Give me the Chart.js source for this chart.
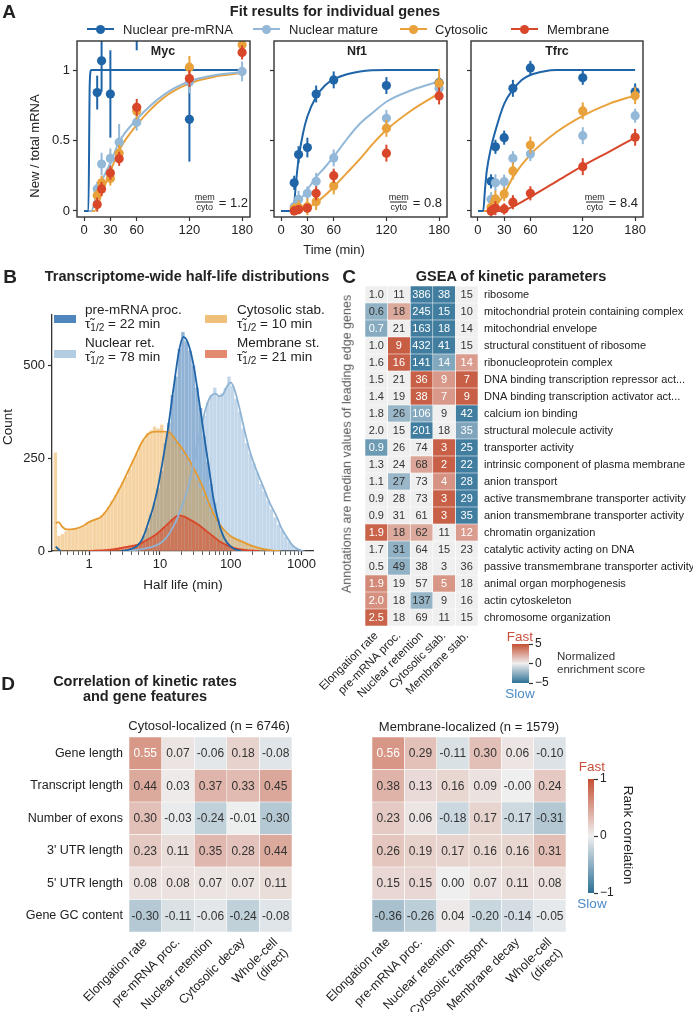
<!DOCTYPE html>
<html>
<head>
<meta charset="utf-8">
<title>Kinetic rates</title>
<script src="https://cdn.jsdelivr.net/npm/chart.js@4.4.1/dist/chart.umd.min.js"></script>
<style>
  body { margin: 0; background: #fff; }
  #page { position: relative; width: 698px; height: 1018px; overflow: hidden;
          font-family: "Liberation Sans", Arial, sans-serif; color: #222; }
  #page canvas { position: absolute; left: 0; top: 0; }
  .t { position: absolute; white-space: nowrap; line-height: 1; }
  .c { transform: translate(-50%, -50%); }
  .l { transform: translateY(-50%); }
  .up { transform: translate(-50%, -50%) rotate(-90deg); }
  .down { transform: translate(-50%, -50%) rotate(90deg); }
  .bold { font-weight: bold; }
  .lg { position: absolute; top: 28px; width: 27px; height: 2px; }
  .lg i { position: absolute; left: 9px; top: -3.5px; width: 9px; height: 9px; border-radius: 50%; background: inherit; }
  .frac { font-size: 13px; display: flex; align-items: center; transform: translateY(-50%); }
  .fr { display: inline-flex; flex-direction: column; align-items: center; font-size: 9px; line-height: 9px; margin-right: 4px; }
  .fr span + span { border-top: 1px solid #222; }
  .patch { position: absolute; width: 22px; height: 8px; }
  .leg { font-size: 13.5px; line-height: 14px; }
  sub { font-size: 10px; line-height: 0; vertical-align: -3px; }
</style>
</head>
<body>
<div id="page">
  <!-- A -->
  <div class="t c bold" style="left:9px;top:11px;font-size:19px">A</div>
  <div class="t c bold" style="left:335px;top:11px;font-size:14.5px">Fit results for individual genes</div>
  <div class="lg" style="left:87px;background:#1f65a8"><i></i></div>
  <div class="t l" style="left:123px;top:29px;font-size:13px">Nuclear pre-mRNA</div>
  <div class="lg" style="left:253px;background:#93b8d8"><i></i></div>
  <div class="t l" style="left:289px;top:29px;font-size:13px">Nuclear mature</div>
  <div class="lg" style="left:400px;background:#e9a23b"><i></i></div>
  <div class="t l" style="left:435px;top:29px;font-size:13px">Cytosolic</div>
  <div class="lg" style="left:511px;background:#d9472a"><i></i></div>
  <div class="t l" style="left:547px;top:29px;font-size:13px">Membrane</div>
  <div class="t up" style="left:34px;top:146px;font-size:13px">New / total mRNA</div>
  <div class="t c" style="left:334px;top:249px;font-size:13px">Time (min)</div>
  <div class="t c bold" style="left:163px;top:51px;font-size:12.5px">Myc</div>
  <div class="t c bold" style="left:357px;top:51px;font-size:12.5px">Nf1</div>
  <div class="t c bold" style="left:557px;top:51px;font-size:12.5px">Tfrc</div>
  <div class="t frac" style="right:450px;top:202px"><span class="fr"><span>mem</span><span>cyto</span></span>= 1.2</div>
  <div class="t frac" style="right:256px;top:202px"><span class="fr"><span>mem</span><span>cyto</span></span>= 0.8</div>
  <div class="t frac" style="right:60px;top:202px"><span class="fr"><span>mem</span><span>cyto</span></span>= 8.4</div>

  <!-- B -->
  <div class="t c bold" style="left:10px;top:276px;font-size:19px">B</div>
  <div class="t c bold" style="left:187px;top:276px;font-size:14.5px">Transcriptome-wide half-life distributions</div>
  <div class="patch" style="left:54px;top:315px;background:#4f86bd"></div>
  <div class="t leg" style="left:85px;top:303px">pre-mRNA proc.<br>τ̃<sub>1/2</sub> = 22 min</div>
  <div class="patch" style="left:54px;top:350px;background:#b3cde3"></div>
  <div class="t leg" style="left:85px;top:336px">Nuclear ret.<br>τ̃<sub>1/2</sub> = 78 min</div>
  <div class="patch" style="left:205px;top:315px;background:#efc07a"></div>
  <div class="t leg" style="left:237px;top:303px">Cytosolic stab.<br>τ̃<sub>1/2</sub> = 10 min</div>
  <div class="patch" style="left:205px;top:350px;background:#e38a70"></div>
  <div class="t leg" style="left:237px;top:336px">Membrane st.<br>τ̃<sub>1/2</sub> = 21 min</div>
  <div class="t up" style="left:8px;top:427px;font-size:13.5px">Count</div>
  <div class="t c" style="left:183px;top:585px;font-size:13.5px">Half life (min)</div>

  <!-- C -->
  <div class="t c bold" style="left:349px;top:276px;font-size:19px">C</div>
  <div class="t c bold" style="left:511px;top:276px;font-size:14.5px">GSEA of kinetic parameters</div>
  <div class="t up" style="left:347px;top:444px;font-size:12.5px;color:#555">Annotations are median values of leading edge genes</div>
  <div class="t c" style="left:520px;top:637px;font-size:13.5px;color:#c8503c">Fast</div>
  <div class="t c" style="left:520px;top:694px;font-size:13.5px;color:#4c8ac6">Slow</div>
  <div class="t" style="left:557px;top:650px;font-size:11.5px;line-height:13px;color:#333">Normalized<br>enrichment score</div>

  <!-- D -->
  <div class="t c bold" style="left:8px;top:683px;font-size:19px">D</div>
  <div class="t c bold" style="left:145px;top:688px;font-size:14.5px;line-height:14.5px;text-align:center">Correlation of kinetic rates<br>and gene features</div>
  <div class="t c" style="left:209px;top:725px;font-size:13px">Cytosol-localized (n = 6746)</div>
  <div class="t c" style="left:469px;top:726px;font-size:13px">Membrane-localized (n = 1579)</div>
  <div class="t c" style="left:592px;top:767px;font-size:13.5px;color:#c8503c">Fast</div>
  <div class="t c" style="left:592px;top:904px;font-size:13.5px;color:#4c8ac6">Slow</div>
  <div class="t down" style="left:628px;top:835px;font-size:13.5px">Rank correlation</div>
</div>

<script>
// ---------- A: fits for single genes ----------
const timesMin = [15, 20, 30, 40, 60, 120, 180];
const timeTicks = [0, 30, 60, 120, 180];
const fracTicks = [0, 0.5, 1];
const fracColors = ["#1f65a8", "#93b8d8", "#e9a23b", "#d9472a"]; // pre-mRNA, nuclear, cytosolic, membrane

// observed new/total ratios, one row per fraction
const mycObs = [
  [0.84, 1.066, 0.83, 1.6, 1.4, 0.65, 1.6],
  [0.156, 0.333, 0.373, 0.487, 0.63, 0.915, 0.99],
  [0.11, 0.2, 0.23, 0.41, 0.71, 1.02, 1.18],
  [0.045, 0.156, 0.27, 0.37, 0.735, 0.94, 1.125],
];
const mycErr = [
  [0.12, 0.22, 0.31, 0.2, 0.26, 0.3, 0.2],
  [0.05, 0.08, 0.07, 0.13, 0.06, 0.08, 0.07],
  [0.04, 0.05, 0.05, 0.06, 0.06, 0.08, 0.06],
  [0.05, 0.05, 0.05, 0.05, 0.06, 0.06, 0.05],
];
const mycFit = [
  [[0, 0], [5, 0], [6.5, 0.9], [8, 1], [180, 1]],
  [[0, 0], [8, 0], [15, 0.13], [20, 0.21], [30, 0.34], [40, 0.49], [60, 0.65], [90, 0.82], [120, 0.92], [150, 0.965], [180, 0.985]],
  [[0, 0], [12, 0], [20, 0.12], [30, 0.28], [40, 0.43], [60, 0.61], [90, 0.8], [120, 0.905], [150, 0.955], [180, 0.98]],
  null,
];

const nf1Obs = [
  [0.2, 0.4, 0.45, 0.83, 0.93, 0.89, 0.91],
  [0.03, 0.083, 0.125, 0.21, 0.376, 0.657, 0.87],
  [0.014, 0.026, 0.03, 0.066, 0.177, 0.586, 0.906],
  [0.0, 0.01, 0.02, 0.125, 0.25, 0.41, 0.816],
];
const nf1Err = [
  [0.05, 0.06, 0.07, 0.06, 0.06, 0.06, 0.05],
  [0.04, 0.06, 0.05, 0.06, 0.06, 0.06, 0.05],
  [0.04, 0.05, 0.06, 0.06, 0.06, 0.06, 0.1],
  [0.03, 0.03, 0.03, 0.05, 0.05, 0.06, 0.06],
];
const nf1Fit = [
  [[0, 0], [14, 0], [17, 0.2], [20, 0.37], [25, 0.55], [30, 0.67], [40, 0.81], [50, 0.89], [60, 0.935], [75, 0.97], [90, 0.99], [120, 1], [180, 1]],
  [[0, 0], [13, 0], [20, 0.06], [30, 0.15], [40, 0.24], [50, 0.31], [60, 0.385], [75, 0.51], [90, 0.62], [105, 0.7], [120, 0.775], [150, 0.86], [180, 0.92]],
  [[0, 0], [22, 0], [30, 0.02], [40, 0.06], [50, 0.11], [60, 0.17], [75, 0.27], [90, 0.37], [105, 0.48], [120, 0.575], [150, 0.72], [180, 0.835]],
  null,
];

const tfrcObs = [
  [0.21, 0.455, 0.52, 0.87, 1.015, 0.945, 0.845],
  [0.083, 0.2, 0.208, 0.374, 0.404, 0.534, 0.676],
  [0.026, 0.085, 0.12, 0.284, 0.468, 0.71, 0.818],
  [0.0, 0.02, 0.014, 0.062, 0.125, 0.314, 0.523],
];
const tfrcErr = [
  [0.05, 0.05, 0.05, 0.06, 0.05, 0.05, 0.06],
  [0.05, 0.06, 0.05, 0.05, 0.05, 0.06, 0.05],
  [0.05, 0.06, 0.05, 0.06, 0.06, 0.06, 0.06],
  [0.04, 0.05, 0.04, 0.05, 0.05, 0.06, 0.06],
];
const tfrcFit = [
  [[0, 0], [6, 0], [8, 0.15], [10, 0.28], [15, 0.45], [20, 0.57], [30, 0.76], [40, 0.86], [50, 0.93], [60, 0.965], [75, 0.99], [90, 1], [180, 1]],
  null,
  [[0, 0], [15, 0], [20, 0.03], [30, 0.12], [40, 0.24], [60, 0.4], [90, 0.56], [120, 0.675], [150, 0.76], [180, 0.82]],
  [[0, 0], [25, 0], [30, 0.005], [40, 0.03], [60, 0.1], [90, 0.21], [120, 0.32], [150, 0.42], [180, 0.52]],
];

// ---------- B: half-life histograms (log10 bins of 0.05) ----------
const binLog = 0.05;
const histStartLog = [0.525, 0.525, -0.475, 0.025];
const histPre = [2, 4, 8, 14, 22, 40, 62, 98, 130, 168, 215, 290, 345, 420, 470, 545, 590, 565, 540, 500,
  440, 385, 310, 240, 180, 128, 85, 52, 30, 16, 8, 4, 2];
const histNuc = [1, 2, 3, 4, 5, 7, 9, 12, 16, 22, 28, 38, 52, 68, 88, 110, 135, 165, 205, 250,
  290, 330, 365, 400, 420, 440, 418, 425, 440, 470, 445, 410, 375, 330, 290, 262, 235, 210, 180, 160,
  135, 112, 90, 70, 55, 38, 24, 14, 8, 4, 1];
const histCyto = [265, 40, 45, 52, 55, 58, 60, 62, 65, 72, 80, 84, 88, 95, 105, 118, 135, 150, 168, 185,
  200, 222, 245, 262, 285, 300, 318, 325, 335, 330, 340, 318, 330, 310, 290, 285, 262, 250, 232, 215,
  192, 170, 148, 125, 105, 88, 72, 60, 48, 40, 35, 30, 25, 22, 18, 14, 11, 8, 6, 4, 3, 2, 1, 1];
const histMem = [2, 2, 3, 3, 4, 5, 6, 8, 9, 10, 12, 14, 16, 18, 22, 26, 32, 36, 42, 48,
  56, 65, 74, 85, 92, 98, 95, 90, 85, 78, 72, 65, 58, 50, 42, 35, 28, 22, 17, 13, 10, 7, 5, 3, 2, 1, 1, 1];
// density curves as [log10 half-life, count]
const kdePre = [[-0.47, 12], [-0.44, 6], [-0.4, 0], [0, null], [0.45, 0], [0.55, 3], [0.65, 10], [0.72, 22], [0.78, 45],
  [0.85, 85], [0.9, 115], [0.97, 170], [1.05, 255], [1.11, 325], [1.2, 450], [1.27, 540], [1.33, 578], [1.4, 560],
  [1.48, 497], [1.55, 410], [1.62, 317], [1.7, 215], [1.76, 137], [1.82, 85], [1.88, 47], [1.95, 22], [2.04, 7], [2.15, 0]];
const kdeNuc = [[0.5, 0], [0.7, 4], [0.9, 12], [1.0, 20], [1.1, 38], [1.2, 70], [1.25, 90], [1.3, 115], [1.39, 165],
  [1.45, 215], [1.53, 290], [1.6, 350], [1.67, 398], [1.72, 418], [1.785, 425], [1.84, 418], [1.88, 420], [1.95, 445],
  [2.0, 455], [2.06, 432], [2.14, 372], [2.2, 322], [2.28, 263], [2.37, 215], [2.46, 173], [2.55, 130], [2.65, 92],
  [2.72, 60], [2.79, 38], [2.86, 18], [2.93, 7], [3.02, 0]];
const kdeCyto = [[-0.47, 75], [-0.43, 78], [-0.38, 66], [-0.32, 58], [-0.2, 60], [-0.1, 66], [0, 78], [0.1, 86], [0.17, 92],
  [0.25, 110], [0.35, 140], [0.45, 175], [0.55, 215], [0.65, 255], [0.75, 295], [0.85, 318], [0.95, 322], [1.05, 322],
  [1.15, 318], [1.22, 300], [1.3, 280], [1.4, 250], [1.5, 215], [1.6, 175], [1.7, 125], [1.8, 85], [1.9, 58], [2.0, 40],
  [2.1, 30], [2.2, 22], [2.3, 14], [2.45, 6], [2.6, 1], [2.7, 0]];
const kdeMem = [[0, 0], [0.3, 3], [0.5, 10], [0.7, 18], [0.85, 33], [0.95, 45], [1.05, 62], [1.15, 80], [1.22, 92],
  [1.27, 96], [1.35, 92], [1.45, 82], [1.55, 70], [1.65, 55], [1.75, 40], [1.85, 25], [1.95, 15], [2.05, 8], [2.2, 3], [2.4, 0]];
const logTicks = [0.4, 0.5, 0.6, 0.7, 0.8, 0.9, 1, 2, 3, 4, 5, 6, 7, 8, 9, 10, 20, 30, 40, 50, 60, 70, 80, 90,
  100, 200, 300, 400, 500, 600, 700, 800, 900, 1000];
const logLabels = [1, 10, 100, 1000];
const countTicks = [0, 250, 500];
const histFill = ["rgba(33,102,172,0.5)", "rgba(146,183,216,0.55)", "rgba(236,168,70,0.5)", "rgba(217,72,42,0.55)"];
const kdeColors = ["#1f65a8", "#8fb3d3", "#e49a2e", "#d9472a"];

// ---------- C: GSEA ----------
const gseaRows = ["ribosome", "mitochondrial protein containing complex", "mitochondrial envelope",
  "structural constituent of ribosome", "ribonucleoprotein complex", "DNA binding transcription repressor act...",
  "DNA binding transcription activator act...", "calcium ion binding", "structural molecule activity",
  "transporter activity", "intrinsic component of plasma membrane", "anion transport",
  "active transmembrane transporter activity", "anion transmembrane transporter activity", "chromatin organization",
  "catalytic activity acting on DNA", "passive transmembrane transporter activity", "animal organ morphogenesis",
  "actin cytoskeleton", "chromosome organization"];
const gseaCols = ["Elongation rate", "pre-mRNA proc.", "Nuclear retention", "Cytosolic stab.", "Membrane stab."];
const gseaMedian = [
  [1.0, 11, 386, 38, 15], [0.6, 18, 245, 15, 10], [0.7, 21, 163, 18, 14], [1.0, 9, 432, 41, 15],
  [1.6, 16, 141, 14, 14], [1.5, 21, 36, 9, 7], [1.4, 19, 38, 7, 9], [1.8, 26, 106, 9, 42],
  [2.0, 15, 201, 18, 35], [0.9, 26, 74, 3, 25], [1.3, 24, 68, 2, 22], [1.1, 27, 73, 4, 28],
  [0.9, 28, 73, 3, 29], [0.9, 31, 61, 3, 35], [1.9, 18, 62, 11, 12], [1.7, 31, 64, 15, 23],
  [0.5, 49, 38, 3, 36], [1.9, 19, 57, 5, 18], [2.0, 18, 137, 9, 16], [2.5, 18, 69, 11, 15]];
const gseaNES = [
  [0, 0, -4.5, -4.5, 0], [-2.4, 2.2, -4.5, -4.5, 0], [-2.7, 0, -4.5, -4.5, 0], [0, 4.6, -4.5, -4.5, 0],
  [0, 4.5, -4.5, -2.8, 2.6], [0, 0, 4.5, 2.7, 4.5], [0, 0, 4.5, 2.7, 4.5], [0, -2.2, -2.7, 0, -4.5],
  [0, 0, -4.5, 0, -2.9], [-3.3, 0, 0, 4.5, -4.5], [0, 0, 2.3, 4.5, -4.5], [0, -2.2, 0, 2.9, -4.5],
  [0, 0, 0, 4.5, -4.5], [0, 0, 0, 4.5, -4.5], [4.4, 2.2, 2.2, 0, 2.6], [0, -2.4, 0, 0, 0],
  [0, -2.4, 0, 0, 0], [3.2, 0, 0, 2.8, 0], [3.0, 0, -2.3, 0, 0], [4.4, 0, 0, 0, 0]];
const nesTicks = [-5, 0, 5];

// ---------- D: correlations ----------
const featRows = ["Gene length", "Transcript length", "Number of exons", "3' UTR length", "5' UTR length", "Gene GC content"];
const cytoCols = ["Elongation rate", "pre-mRNA proc.", "Nuclear retention", "Cytosolic decay", ["Whole-cell", "(direct)"]];
const memCols = ["Elongation rate", "pre-mRNA proc.", "Nuclear retention", "Cytosolic transport", "Membrane decay", ["Whole-cell", "(direct)"]];
const corrCyto = [
  [0.55, 0.07, -0.06, 0.18, -0.08], [0.44, 0.03, 0.37, 0.33, 0.45], [0.30, -0.03, -0.24, -0.01, -0.30],
  [0.23, 0.11, 0.35, 0.28, 0.44], [0.08, 0.08, 0.07, 0.07, 0.11], [-0.30, -0.11, -0.06, -0.24, -0.08]];
const corrMem = [
  [0.56, 0.29, -0.11, 0.30, 0.06, -0.10], [0.38, 0.13, 0.16, 0.09, -0.001, 0.24], [0.23, 0.06, -0.18, 0.17, -0.17, -0.31],
  [0.26, 0.19, 0.17, 0.16, 0.16, 0.31], [0.15, 0.15, 0.00, 0.07, 0.11, 0.08], [-0.36, -0.26, 0.04, -0.20, -0.14, -0.05]];
const corrTicks = [-1, 0, 1];

// ---------- drawing ----------
Chart.defaults.font.family = '"Liberation Sans", Arial, sans-serif';
Chart.defaults.color = "#222";
Chart.defaults.animation = false;
Chart.defaults.responsive = false;
Chart.defaults.events = [];
Chart.defaults.plugins.legend.display = false;
Chart.defaults.plugins.tooltip.enabled = false;

const W = 698, H = 1018;
const page = document.getElementById("page");
const cmapLo = [44, 112, 150], cmapMid = [239, 239, 239], cmapHi = [196, 80, 52];

function cmap(t) {
  t = Math.max(-1, Math.min(1, t));
  const end = t < 0 ? cmapLo : cmapHi, a = Math.abs(t);
  return "rgb(" + end.map((e, i) => Math.round(cmapMid[i] + (e - cmapMid[i]) * a)).join(",") + ")";
}

function newCanvas() {
  const c = document.createElement("canvas");
  c.width = W; c.height = H;
  page.insertBefore(c, page.firstChild);
  return c;
}

// every chart gets a full-page canvas; padding puts the plot area on box = [l, t, r, b]
function placeArea(box, ax) {
  return {
    left: box[0] - (ax.left || 0), top: box[1] - (ax.top || 0),
    right: W - box[2] - (ax.right || 0), bottom: H - box[3] - (ax.bottom || 0),
  };
}
function fixSize(size) {
  return s => {
    if (s.isHorizontal()) s.height = size; else s.width = size;
    s.paddingLeft = s.paddingRight = s.paddingTop = s.paddingBottom = 0;
  };
}
const setTicks = vals => s => { s.ticks = vals.map(value => ({ value })); };

const errorBars = {
  id: "errorBars",
  beforeDatasetDraw(chart, args) {
    const ds = chart.data.datasets[args.index];
    if (!ds.errs) return;
    const { ctx, chartArea: a, scales: { x, y } } = chart;
    ctx.save();
    ctx.beginPath(); ctx.rect(a.left, a.top, a.width, a.height); ctx.clip();
    ctx.strokeStyle = ds.backgroundColor; ctx.lineWidth = 2;
    ds.data.forEach((p, i) => {
      const px = x.getPixelForValue(p.x);
      ctx.beginPath();
      ctx.moveTo(px, y.getPixelForValue(p.y - ds.errs[i]));
      ctx.lineTo(px, y.getPixelForValue(p.y + ds.errs[i]));
      ctx.stroke();
    });
    ctx.restore();
  },
};

const frame = {
  id: "frame",
  afterDatasetsDraw(chart) {
    const { ctx, chartArea: a } = chart;
    ctx.save(); ctx.strokeStyle = "#333"; ctx.lineWidth = 1.4;
    ctx.strokeRect(a.left, a.top, a.width, a.height);
    ctx.restore();
  },
};

const cellText = {
  id: "cellText",
  afterDatasetsDraw(chart, args, opts) {
    const ctx = chart.ctx;
    ctx.save();
    ctx.font = opts.size + "px " + Chart.defaults.font.family;
    ctx.textAlign = "center"; ctx.textBaseline = "middle";
    chart.data.datasets.forEach((ds, j) => {
      chart.getDatasetMeta(j).data.forEach((bar, i) => {
        const p = bar.getProps(["x", "y", "base"], true);
        ctx.fillStyle = ds.cellColor[i];
        ctx.fillText(ds.cellText[i], (p.x + p.base) / 2, p.y + 0.5);
      });
    });
    ctx.restore();
  },
};

const tickGrid = { drawOnChartArea: false, tickLength: 4, tickColor: "#333", tickWidth: 1.2 };

function fitPanel(box, obs, err, fits, showY) {
  const datasets = [];
  fits.forEach((f, k) => {
    if (!f) return;
    datasets.push({
      type: "line", data: f.map(([x, y]) => ({ x, y })), borderColor: fracColors[k], borderWidth: 2,
      pointRadius: 0, cubicInterpolationMode: "monotone", order: 10,
    });
  });
  obs.forEach((o, k) => {
    datasets.push({
      type: "scatter", data: o.map((y, i) => ({ x: timesMin[i], y })), errs: err[k],
      backgroundColor: fracColors[k], pointRadius: 4.6, borderWidth: 0, order: 4 - k,
    });
  });
  new Chart(newCanvas(), {
    type: "scatter",
    data: { datasets },
    options: {
      layout: { padding: placeArea(box, { left: 36, bottom: 26 }) },
      scales: {
        x: {
          type: "linear", min: -8, max: 189, afterBuildTicks: setTicks(timeTicks), afterFit: fixSize(26),
          ticks: { font: { size: 13 }, padding: 2, maxRotation: 0 }, grid: tickGrid, border: { display: false },
        },
        y: {
          min: -0.043, max: 1.206, afterBuildTicks: setTicks(fracTicks), afterFit: fixSize(36),
          ticks: { font: { size: 13 }, padding: 3, callback: v => (showY ? String(v) : "") },
          grid: tickGrid, border: { display: false },
        },
      },
    },
    plugins: [errorBars, frame],
  });
}

fitPanel([77, 41, 250, 217], mycObs, mycErr, mycFit, true);
fitPanel([274, 41, 447, 217], nf1Obs, nf1Err, nf1Fit, false);
fitPanel([471, 41, 643, 217], tfrcObs, tfrcErr, tfrcFit, false);

// B
(function () {
  const datasets = [];
  [kdePre, kdeNuc, kdeCyto, kdeMem].forEach((kd, k) => {
    datasets.push({
      type: "line", data: kd.map(([lg, y]) => ({ x: 10 ** lg, y })), borderColor: kdeColors[k], borderWidth: 1.8,
      pointRadius: 0, cubicInterpolationMode: "monotone", spanGaps: false, order: 0,
    });
  });
  [histPre, histNuc, histCyto, histMem].forEach((cnt, k) => {
    datasets.push({
      type: "bar", data: cnt.map((y, i) => ({ x: 10 ** (histStartLog[k] + i * binLog), y })),
      backgroundColor: histFill[k], barThickness: 2.7, grouped: false, order: 4 - k,
    });
  });
  new Chart(newCanvas(), {
    type: "bar",
    data: { datasets },
    options: {
      layout: { padding: placeArea([52, 315, 313, 551], { left: 36, bottom: 22 }) },
      scales: {
        x: {
          type: "logarithmic", min: 0.31, max: 1450, offset: false,
          afterBuildTicks: setTicks(logTicks), afterFit: fixSize(22),
          ticks: { autoSkip: false, maxRotation: 0, font: { size: 13 }, padding: 2,
                   callback: v => (logLabels.includes(v) ? String(v) : "") },
          grid: { offset: false, drawOnChartArea: false, tickLength: 4, tickColor: "#333",
                  tickWidth: c => (c.tick && logLabels.includes(c.tick.value) ? 1.2 : 0.8) },
          border: { color: "#333", width: 1.3 },
        },
        y: {
          min: 0, max: 637, afterBuildTicks: setTicks(countTicks), afterFit: fixSize(36),
          ticks: { font: { size: 13 }, padding: 3 }, grid: tickGrid, border: { color: "#333", width: 1.3 },
        },
      },
    },
  });
})();

function heatmap(o) {
  const datasets = o.cols.map((c, j) => ({
    data: o.rows.map(() => 1),
    backgroundColor: o.rows.map((r, i) => cmap(o.color[i][j] / o.lim)),
    cellText: o.rows.map((r, i) => o.fmt(o.text[i][j], j)),
    cellColor: o.rows.map((r, i) => (Math.abs(o.color[i][j]) >= o.white ? "#fff" : "#333")),
    borderColor: "#fff", borderWidth: 0.6, borderSkipped: false,
    barPercentage: 1, categoryPercentage: 1,
  }));
  const side = o.rowSide;
  new Chart(newCanvas(), {
    type: "bar",
    data: { labels: o.rows, datasets },
    options: {
      indexAxis: "y",
      layout: { padding: placeArea(o.box, { left: side === "left" ? o.rowW : 0, right: side === "right" ? o.rowW : 0, bottom: o.colH }) },
      scales: {
        x: {
          stacked: true, min: 0, max: o.cols.length,
          afterBuildTicks: s => { s.ticks = o.cols.map((c, j) => ({ value: j + 0.5 })); },
          afterFit: fixSize(o.colH),
          ticks: { autoSkip: false, minRotation: 45, maxRotation: 45, font: { size: o.colFont }, padding: o.colPad,
                   callback: (v, i) => o.cols[i] },
          grid: { display: false, drawTicks: false }, border: { display: false },
        },
        y: {
          stacked: true, display: !!side, position: side || "left", afterFit: fixSize(o.rowW || 0),
          ticks: { font: { size: o.rowFont }, padding: o.rowPad },
          grid: { display: false, drawTicks: false }, border: { display: false },
        },
      },
      plugins: { cellText: { size: o.cellFont } },
    },
    plugins: [cellText],
  });
}

function barGradient(chart) {
  const a = chart.chartArea;
  if (!a) return "#ccc";
  const g = chart.ctx.createLinearGradient(0, a.bottom, 0, a.top);
  [-1, -0.5, 0, 0.5, 1].forEach(t => g.addColorStop((t + 1) / 2, cmap(t)));
  return g;
}

function colorbar(box, ticks, axisW) {
  const lo = ticks[0], hi = ticks[ticks.length - 1];
  new Chart(newCanvas(), {
    type: "bar",
    data: { labels: [""], datasets: [{ data: [[lo, hi]], backgroundColor: c => barGradient(c.chart),
      barPercentage: 1, categoryPercentage: 1, borderWidth: 0 }] },
    options: {
      layout: { padding: placeArea(box, { right: axisW }) },
      scales: {
        x: { display: false },
        y: {
          position: "right", min: lo, max: hi, afterBuildTicks: setTicks(ticks), afterFit: fixSize(axisW),
          ticks: { font: { size: 12 }, padding: 2, callback: v => (v < 0 ? "\u2212" + -v : String(v)) },
          grid: tickGrid, border: { display: false },
        },
      },
    },
  });
}

heatmap({
  box: [365, 286, 478, 626], rows: gseaRows, cols: gseaCols, color: gseaNES, lim: 5, white: 2.5,
  text: gseaMedian, fmt: (v, j) => (j === 0 ? v.toFixed(1) : String(v)),
  rowSide: "right", rowW: 215, rowFont: 11, rowPad: 6, colH: 80, colFont: 11.5, colPad: 3, cellFont: 11,
});
colorbar([512, 644, 529, 683], nesTicks, 25);

heatmap({
  box: [129, 737, 292, 932], rows: featRows, cols: cytoCols, color: corrCyto, lim: 1, white: 0.5,
  text: corrCyto, fmt: v => v.toFixed(2),
  rowSide: "left", rowW: 125, rowFont: 12.5, rowPad: 6, colH: 80, colFont: 12.5, colPad: 3, cellFont: 12,
});
heatmap({
  box: [372, 737, 566, 932], rows: featRows, cols: memCols, color: corrMem, lim: 1, white: 0.5,
  text: corrMem, fmt: v => v.toFixed(2),
  rowSide: null, colH: 80, colFont: 12.5, colPad: 3, cellFont: 12,
});
colorbar([588, 779, 594, 893], corrTicks, 22);
</script>
</body>
</html>
